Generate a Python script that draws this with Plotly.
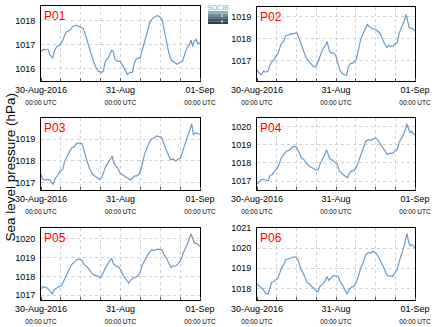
import plotly.graph_objects as go

# ---- data (hours since 30-Aug-2016 00:00 UTC, sea level pressure hPa) ----
p01_hours = [0, 0.7, 1.5, 2.2, 2.7, 3.5, 4.0, 4.7, 5.7, 6.5, 7.2, 7.7, 8.8, 9.6, 10.6, 11.8, 12.8, 13.6, 14.3, 15.0,
             15.8, 16.6, 17.3, 18.3, 18.8, 19.3, 19.8, 20.3, 20.8, 21.3, 21.8, 22.3, 23.0, 23.8, 24.5, 25.4, 26.1,
             26.9, 27.6, 28.2, 28.7, 29.2, 29.9, 30.7, 31.4, 32.1, 32.9, 33.7, 34.4, 35.1, 35.9, 36.6, 37.2, 37.9,
             38.6, 39.4, 40.4, 41.1, 42.0, 42.7, 43.5, 44.2, 44.8, 45.3, 45.8, 46.2, 46.8, 47.3, 48.0]
p01_values = [1016.73, 1016.82, 1016.80, 1016.80, 1016.59, 1016.45, 1016.73, 1016.93, 1017.00, 1017.18, 1017.41,
              1017.55, 1017.62, 1017.78, 1017.82, 1017.75, 1017.68, 1017.34, 1017.00, 1016.66, 1016.32, 1016.07,
              1015.90, 1015.86, 1015.90, 1016.25, 1016.41, 1016.45, 1016.66, 1016.77, 1016.73, 1016.41, 1016.32,
              1016.32, 1016.18, 1015.93, 1015.77, 1015.86, 1015.86, 1016.25, 1016.41, 1016.45, 1016.45, 1016.86,
              1017.27, 1017.55, 1017.96, 1018.10, 1018.16, 1018.23, 1018.16, 1018.03, 1017.62, 1017.14, 1016.66,
              1016.36, 1016.27, 1016.20, 1016.27, 1016.32, 1016.66, 1016.93, 1017.00, 1017.20, 1016.93, 1017.14,
              1017.23, 1017.07, 1017.10]

p02_hours = [0, 0.6, 1.3, 2.0, 2.6, 3.4, 3.9, 4.4, 5.1, 5.7, 6.4, 6.9, 7.4, 8.1, 8.7, 9.4, 10.2, 10.8, 11.5, 12.2,
             12.8, 13.5, 14.2, 14.8, 15.5, 16.2, 17.1, 17.8, 18.4, 18.9, 19.6, 20.1, 20.6, 21.3, 21.8, 22.3, 23.1,
             23.9, 24.5, 25.2, 26.0, 26.7, 27.2, 27.7, 28.4, 29.2, 30.1, 30.8, 31.5, 32.3, 33.0, 33.5, 34.3, 35.1,
             35.8, 36.5, 37.4, 38.1, 38.9, 39.4, 39.9, 40.6, 41.4, 42.1, 42.6, 43.2, 44.0, 44.7, 45.3, 45.7, 46.3,
             47.0, 47.5, 48.0]
p02_values = [1016.60, 1016.45, 1016.38, 1016.54, 1016.49, 1016.54, 1016.80, 1016.95, 1017.03, 1017.22, 1017.34,
              1017.57, 1017.80, 1017.88, 1018.14, 1018.18, 1018.23, 1018.22, 1018.26, 1018.26, 1018.03, 1017.72,
              1017.49, 1017.18, 1017.03, 1016.91, 1016.75, 1016.72, 1016.88, 1017.11, 1017.42, 1017.57, 1017.65,
              1017.88, 1017.57, 1017.37, 1017.37, 1017.26, 1016.95, 1016.57, 1016.42, 1016.38, 1016.34, 1016.72,
              1016.88, 1016.91, 1017.03, 1017.49, 1017.98, 1018.26, 1018.49, 1018.65, 1018.54, 1018.45, 1018.45,
              1018.38, 1018.26, 1017.98, 1017.72, 1017.60, 1017.72, 1017.65, 1017.68, 1017.80, 1017.83, 1018.26,
              1018.57, 1018.80, 1019.11, 1018.88, 1018.49, 1018.49, 1018.42, 1018.37]

p03_hours = [0, 0.5, 1.3, 2.0, 2.7, 3.3, 3.7, 4.3, 5.1, 5.8, 6.6, 7.1, 7.8, 8.6, 9.4, 10.1, 10.8, 11.6, 12.4, 13.1,
             13.8, 14.6, 15.5, 16.2, 16.9, 17.7, 18.4, 18.9, 19.5, 20.2, 20.9, 21.5, 21.9, 22.5, 23.2, 23.9, 24.7,
             25.6, 26.3, 27.0, 27.6, 28.3, 29.0, 29.6, 30.3, 30.8, 31.3, 32.0, 32.6, 33.3, 34.0, 34.8, 35.6, 36.4,
             36.9, 37.6, 38.4, 39.1, 39.9, 40.7, 41.4, 42.1, 42.9, 43.6, 44.4, 45.0, 45.5, 46.0, 46.5, 47.0, 47.5,
             48.0]
p03_values = [1017.40, 1017.15, 1017.12, 1017.15, 1017.12, 1017.00, 1016.92, 1017.20, 1017.35, 1017.55, 1017.62,
              1017.97, 1018.20, 1018.43, 1018.62, 1018.66, 1018.82, 1018.82, 1018.78, 1018.35, 1018.05, 1017.66,
              1017.40, 1017.31, 1017.25, 1017.15, 1017.25, 1017.51, 1017.74, 1017.90, 1018.08, 1018.23, 1017.92,
              1017.82, 1017.66, 1017.43, 1017.34, 1017.25, 1017.20, 1017.12, 1017.20, 1017.31, 1017.31, 1017.40,
              1017.66, 1018.05, 1018.35, 1018.58, 1018.82, 1019.00, 1019.05, 1019.15, 1019.12, 1019.09, 1018.85,
              1018.58, 1018.28, 1018.05, 1018.08, 1018.00, 1018.08, 1018.12, 1018.51, 1018.89, 1019.20, 1019.46,
              1019.71, 1019.20, 1019.28, 1019.28, 1019.25, 1019.23]

p04_hours = [0, 0.6, 1.3, 2.0, 2.8, 3.4, 3.9, 4.7, 5.4, 6.1, 6.7, 7.4, 8.1, 8.9, 9.7, 10.5, 11.2, 12.0, 12.7, 13.5,
             14.2, 14.8, 15.5, 16.2, 17.1, 17.9, 18.6, 19.1, 19.8, 20.6, 21.1, 21.6, 22.1, 22.8, 23.7, 24.4, 25.0,
             25.7, 26.4, 27.0, 27.5, 28.0, 28.7, 29.4, 30.1, 30.8, 31.5, 32.3, 33.0, 33.8, 34.5, 35.3, 36.0, 36.5,
             37.4, 38.2, 38.9, 39.6, 40.4, 41.2, 41.9, 42.6, 43.2, 44.0, 44.7, 45.2, 45.5, 46.0, 46.5, 47.0, 47.5,
             48.0]
p04_values = [1016.84, 1016.96, 1017.07, 1017.10, 1017.07, 1017.02, 1017.29, 1017.38, 1017.56, 1017.69, 1017.92,
              1018.28, 1018.46, 1018.64, 1018.70, 1018.82, 1018.92, 1018.88, 1018.64, 1018.28, 1018.19, 1018.01,
              1017.87, 1017.79, 1017.69, 1017.61, 1017.61, 1017.92, 1018.19, 1018.46, 1018.73, 1018.52, 1018.23,
              1018.16, 1018.05, 1017.92, 1017.56, 1017.43, 1017.32, 1017.25, 1017.18, 1017.43, 1017.56, 1017.56,
              1017.74, 1018.05, 1018.46, 1018.82, 1019.19, 1019.28, 1019.24, 1019.31, 1019.37, 1019.31, 1019.06,
              1018.82, 1018.59, 1018.46, 1018.52, 1018.52, 1018.64, 1018.73, 1019.13, 1019.37, 1019.64, 1019.91,
              1020.14, 1019.91, 1019.67, 1019.73, 1019.60, 1019.55]

p05_hours = [0, 0.6, 1.3, 2.0, 2.6, 3.4, 3.9, 4.6, 5.4, 6.2, 6.9, 7.6, 8.4, 9.2, 9.9, 10.7, 11.5, 12.3, 13.0, 13.7,
             14.5, 15.3, 16.0, 16.8, 17.4, 17.9, 18.4, 19.1, 19.8, 20.6, 21.3, 21.9, 22.6, 23.5, 24.2, 24.9, 25.7,
             26.5, 27.0, 27.7, 28.5, 29.2, 29.9, 30.6, 31.3, 32.0, 32.8, 33.5, 34.3, 35.0, 35.8, 36.5, 37.2, 37.9,
             38.6, 39.2, 39.9, 40.7, 41.4, 42.2, 42.9, 43.7, 44.3, 44.8, 45.3, 45.8, 46.3, 47.0, 47.5, 48.0]
p05_values = [1017.32, 1017.46, 1017.42, 1017.37, 1017.25, 1017.07, 1017.28, 1017.37, 1017.46, 1017.50, 1017.78,
              1018.08, 1018.34, 1018.61, 1018.73, 1018.87, 1018.91, 1018.87, 1018.61, 1018.55, 1018.38, 1018.17,
              1018.08, 1018.03, 1017.99, 1017.90, 1018.08, 1018.38, 1018.55, 1018.78, 1018.96, 1018.66, 1018.55,
              1018.48, 1018.31, 1018.02, 1017.81, 1017.64, 1017.78, 1017.90, 1017.95, 1018.02, 1018.20, 1018.61,
              1018.84, 1019.05, 1019.31, 1019.40, 1019.37, 1019.44, 1019.40, 1019.40, 1019.14, 1018.96, 1018.69,
              1018.48, 1018.55, 1018.55, 1018.66, 1018.87, 1019.22, 1019.49, 1019.75, 1020.02, 1020.25, 1020.02,
              1019.75, 1019.75, 1019.66, 1019.58]

p06_hours = [0, 0.6, 1.3, 2.0, 2.6, 3.4, 3.9, 4.4, 5.1, 5.7, 6.4, 6.9, 7.4, 8.1, 8.7, 9.4, 10.2, 11.0, 11.8, 12.5,
             13.2, 13.8, 14.5, 15.2, 16.0, 16.8, 17.6, 18.1, 18.6, 19.1, 19.8, 20.6, 21.3, 21.8, 22.3, 23.1, 24.0,
             24.7, 25.2, 26.0, 26.7, 27.4, 27.9, 28.7, 29.4, 30.1, 30.8, 31.5, 32.3, 33.0, 33.8, 34.5, 35.3, 36.1,
             36.8, 37.6, 38.4, 39.1, 39.7, 40.4, 41.2, 41.9, 42.6, 43.2, 44.0, 44.7, 45.2, 45.6, 46.0, 46.5, 47.2,
             48.0]
p06_values = [1018.23, 1018.13, 1018.06, 1017.93, 1017.77, 1017.73, 1018.01, 1018.30, 1018.35, 1018.43, 1018.51,
              1018.76, 1019.01, 1019.18, 1019.42, 1019.46, 1019.51, 1019.56, 1019.56, 1019.42, 1019.01, 1018.84,
              1018.60, 1018.30, 1018.23, 1018.06, 1017.97, 1017.85, 1017.85, 1018.10, 1018.18, 1018.35, 1018.60,
              1018.40, 1018.51, 1018.63, 1018.63, 1018.60, 1018.35, 1018.18, 1017.93, 1017.73, 1017.93, 1018.06,
              1018.10, 1018.30, 1018.60, 1019.01, 1019.29, 1019.67, 1019.79, 1019.76, 1019.84, 1019.76, 1019.59,
              1019.34, 1019.09, 1018.79, 1018.63, 1018.63, 1018.60, 1018.79, 1018.93, 1019.34, 1019.76, 1020.09,
              1020.50, 1020.72, 1020.34, 1020.12, 1020.17, 1020.00]

panel_names = ["P01", "P02", "P03", "P04", "P05", "P06"]
panel_hours = [p01_hours, p02_hours, p03_hours, p04_hours, p05_hours, p06_hours]
panel_values = [p01_values, p02_values, p03_values, p04_values, p05_values, p06_values]
y_ranges = [[1015.5, 1018.62], [1016.09, 1019.45], [1016.66, 1019.98],
            [1016.51, 1020.47], [1016.75, 1020.56], [1017.43, 1021.0]]

x_tick_hours = [0, 24, 48]
x_tick_dates = ["30-Aug-2016", "31-Aug", "01-Sep"]
x_tick_times = ["00:00 UTC", "00:00 UTC", "00:00 UTC"]

# ---- layout geometry ----
W, H = 434, 327
col_x = [(41, 200), (257, 415)]
row_y = [(6, 81), (118, 190), (228, 300)]

LINE_COLOR = "#6b9bc6"
GRID_COLOR = "#d2d2d2"
FONT = "Liberation Sans, Arial, sans-serif"

fig = go.Figure()
layout = dict(
    width=W, height=H,
    margin=dict(l=0, r=0, t=0, b=0),
    paper_bgcolor="white", plot_bgcolor="white",
    showlegend=False,
    font=dict(family=FONT, color="black", size=9),
)

ticktext = [f"{d}<br><span style='font-size:6.5px'>{t}</span>" for d, t in zip(x_tick_dates, x_tick_times)]
annotations = []
shapes = []

for i, name in enumerate(panel_names):
    r, c = divmod(i, 2)
    x0, x1 = col_x[c]
    ytop, ybot = row_y[r]
    if r == 0 and c == 1:
        ytop = 7
    xa = "x" if i == 0 else f"x{i+1}"
    ya = "y" if i == 0 else f"y{i+1}"
    xkey = "xaxis" if i == 0 else f"xaxis{i+1}"
    ykey = "yaxis" if i == 0 else f"yaxis{i+1}"
    fig.add_trace(go.Scatter(x=panel_hours[i], y=panel_values[i], mode="lines",
                             line=dict(color=LINE_COLOR, width=1.2),
                             xaxis=xa, yaxis=ya, hoverinfo="skip"))
    layout[xkey] = dict(
        domain=[x0 / W, x1 / W], anchor=ya, range=[0, 48], automargin=False,
        tickmode="array", tickvals=x_tick_hours, ticktext=ticktext,
        showgrid=True, gridcolor=GRID_COLOR, griddash="dot", gridwidth=1,
        minor=dict(dtick=6, tick0=0, showgrid=True, gridcolor=GRID_COLOR, griddash="dot", gridwidth=1,
                   ticks="inside", ticklen=3, tickcolor="#555"),
        showline=True, linecolor="black", linewidth=1, mirror=True,
        ticks="", zeroline=False, tickfont=dict(size=9, family=FONT, color="black"),
        fixedrange=True,
    )
    layout[ykey] = dict(
        domain=[1 - ybot / H, 1 - ytop / H], anchor=xa, range=y_ranges[i], automargin=False,
        dtick=1, tick0=1000, showgrid=True, gridcolor=GRID_COLOR, griddash="dot", gridwidth=1,
        showline=True, linecolor="black", linewidth=1, mirror=True,
        ticks="", zeroline=False, tickfont=dict(size=9, family=FONT, color="black"),
        ticklabelstandoff=3, fixedrange=True,
    )
    annotations.append(dict(text=name, x=(x0 + 1) / W, y=1 - (ytop + 1) / H, xref="paper", yref="paper",
                            xanchor="left", yanchor="top", showarrow=False,
                            font=dict(color="red", size=12, family=FONT)))

# y-axis title
annotations.append(dict(text="Sea level pressure (hPa)", x=9.5 / W, y=1 - 167 / H, xref="paper", yref="paper",
                        textangle=-90, showarrow=False, xanchor="center", yanchor="middle",
                        font=dict(size=13.5, family=FONT, color="black")))

# small logo (SOCIB style)
logo_cols = ["#8fb2b8", "#6d8f99", "#51707c", "#3b5563", "#2c3f4e"]
lx0, lx1, ly0 = 208, 228, 11
for k, col in enumerate(logo_cols):
    shapes.append(dict(type="rect", xref="paper", yref="paper",
                       x0=lx0 / W, x1=lx1 / W, y0=1 - (ly0 + 2.6 * (k + 1)) / H, y1=1 - (ly0 + 2.6 * k) / H,
                       fillcolor=col, line=dict(width=0), layer="above"))
shapes.append(dict(type="line", xref="paper", yref="paper", x0=222 / W, x1=222 / W,
                   y0=1 - 23 / H, y1=1 - 13 / H, line=dict(color="white", width=1, dash="dot")))
annotations.append(dict(text="SOCIB", x=218 / W, y=1 - 2 / H, xref="paper", yref="paper",
                        xanchor="center", yanchor="top", showarrow=False,
                        font=dict(size=7, family=FONT, color="#38c6d8")))

layout["annotations"] = annotations
layout["shapes"] = shapes
fig.update_layout(**layout)
fig.write_html("out.html")
